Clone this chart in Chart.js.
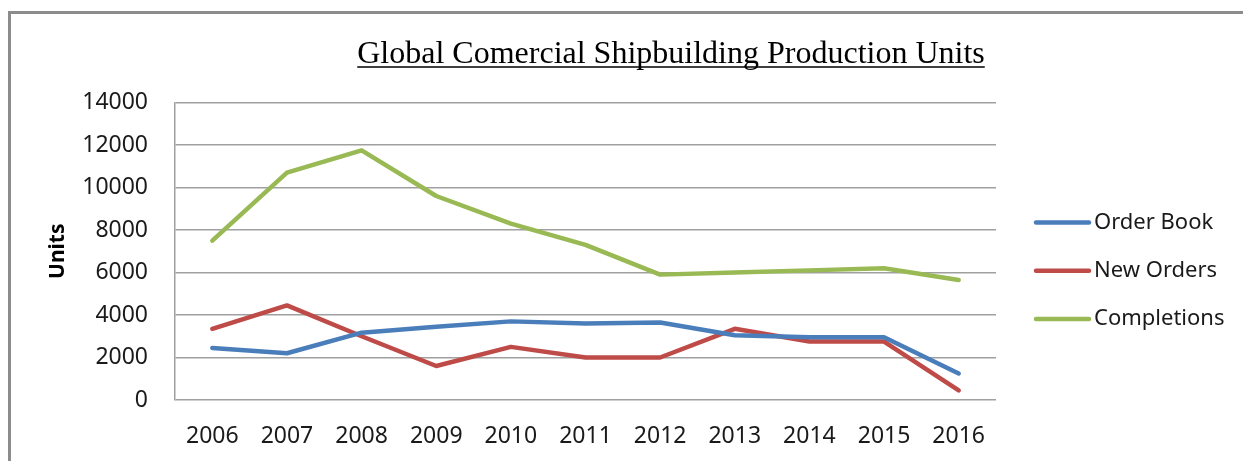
<!DOCTYPE html>
<html>
<head>
<meta charset="utf-8">
<script src="https://cdn.jsdelivr.net/npm/chart.js@4.4.0/dist/chart.umd.min.js"></script>
<style>
  html, body { margin: 0; padding: 0; background: #fff; }
  #wrap { position: relative; width: 1243px; height: 461px; }
</style>
</head>
<body>
<div id="wrap"><canvas id="chart"></canvas></div>
<script>
// chart data
const years = ['2006', '2007', '2008', '2009', '2010', '2011', '2012', '2013', '2014', '2015', '2016'];
const orderBook = [2450, 2200, 3170, 3450, 3700, 3600, 3650, 3050, 2950, 2950, 1250];
const newOrders = [3350, 4450, 3000, 1600, 2500, 2000, 2000, 3350, 2750, 2750, 450];
const completions = [7500, 10700, 11750, 9600, 8300, 7300, 5900, 6000, 6100, 6200, 5650];
const seriesNames = ['Order Book', 'New Orders', 'Completions'];
const seriesColors = ['#4A7EBB', '#BE4B48', '#98B954'];
const chartTitle = 'Global Comercial Shipbuilding Production Units';

const tickFont = { family: '"Noto Sans", "Open Sans", sans-serif', size: 23 };

// frame, title with underline, and legend on the right
const decorPlugin = {
  id: 'decor',
  beforeDraw(chart) {
    const ctx = chart.ctx;
    ctx.save();
    ctx.fillStyle = '#fff';
    ctx.fillRect(0, 0, chart.width, chart.height);
    ctx.strokeStyle = '#8c8c8c';
    ctx.lineWidth = 3;
    ctx.beginPath();
    ctx.moveTo(9.5, chart.height);
    ctx.lineTo(9.5, 12.5);
    ctx.lineTo(chart.width, 12.5);
    ctx.stroke();
    ctx.restore();
  },
  afterDraw(chart) {
    const ctx = chart.ctx;
    ctx.save();
    // title
    ctx.font = '32px "Liberation Serif", "Times New Roman", serif';
    ctx.fillStyle = '#000';
    ctx.textAlign = 'center';
    ctx.textBaseline = 'alphabetic';
    const cx = 671;
    ctx.fillText(chartTitle, cx, 62.5);
    const w = ctx.measureText(chartTitle).width;
    ctx.strokeStyle = '#000';
    ctx.lineWidth = 1.5;
    ctx.beginPath();
    ctx.moveTo(cx - w / 2, 67);
    ctx.lineTo(cx + w / 2, 67);
    ctx.stroke();

    // legend
    ctx.font = '22px "Noto Sans", "Open Sans", sans-serif';
    ctx.textAlign = 'left';
    ctx.textBaseline = 'middle';
    ctx.lineWidth = 4.5;
    ctx.lineCap = 'round';
    chart.data.datasets.forEach((ds, i) => {
      const y = 222.5 + i * 48.3;
      ctx.strokeStyle = ds.borderColor;
      ctx.beginPath();
      ctx.moveTo(1036, y);
      ctx.lineTo(1089, y);
      ctx.stroke();
      ctx.fillStyle = '#1a1a1a';
      ctx.fillText(ds.label, 1094, y);
    });
    ctx.restore();
  }
};

new Chart(document.getElementById('chart'), {
  type: 'line',
  data: {
    labels: years,
    datasets: [orderBook, newOrders, completions].map((d, i) => ({
      label: seriesNames[i],
      data: d,
      borderColor: seriesColors[i],
      backgroundColor: seriesColors[i],
      borderWidth: 4.5,
      pointRadius: 0,
      tension: 0,
      borderJoinStyle: 'round',
      borderCapStyle: 'round',
      fill: false
    }))
  },
  options: {
    responsive: true,
    maintainAspectRatio: false,
    animation: false,
    layout: { padding: { left: 0, right: 247, top: 102.5, bottom: 0 } },
    plugins: {
      legend: { display: false },
      title: { display: false },
      tooltip: { enabled: false }
    },
    scales: {
      x: {
        type: 'category',
        offset: true,
        grid: { display: false, drawTicks: false },
        border: { display: false },
        ticks: { font: tickFont, color: '#1a1a1a', padding: 23, maxRotation: 0 },
        afterFit(scale) { scale.height = 61; }
      },
      y: {
        min: 0,
        max: 14000,
        ticks: {
          stepSize: 2000,
          font: tickFont,
          color: '#1a1a1a',
          padding: 27,
          callback: (v) => String(v)
        },
        grid: { color: '#a0a0a0', lineWidth: 1.5, drawTicks: false },
        border: { display: true, color: '#a0a0a0', width: 1.5 },
        title: {
          display: true,
          text: 'Units',
          color: '#000',
          font: { family: '"Noto Sans", "Open Sans", sans-serif', size: 21, weight: 'bold' },
          padding: { top: 45, bottom: 0 }
        },
        afterFit(scale) { scale.width = 175; }
      }
    }
  },
  plugins: [decorPlugin]
});
</script>
</body>
</html>
